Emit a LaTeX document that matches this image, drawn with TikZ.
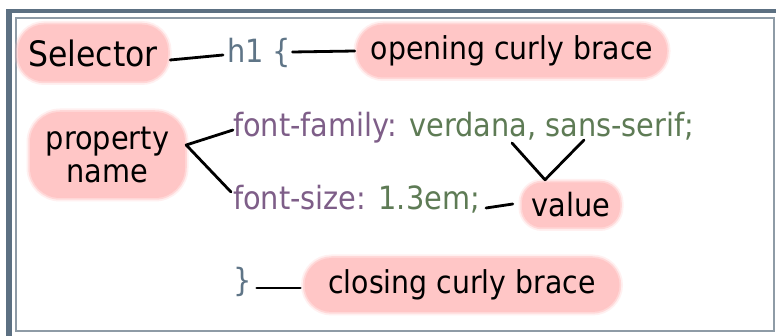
\documentclass[tikz,border=0pt]{standalone}
\usepackage{fontspec}
\setmainfont{DejaVu Sans Condensed}
\usetikzlibrary{calc}
\definecolor{framec}{HTML}{5C7082}
\definecolor{innerc}{HTML}{8E9BA6}
\definecolor{h1c}{HTML}{5F7587}
\definecolor{purp}{HTML}{7E5E88}
\definecolor{grn}{HTML}{5E7B55}
\definecolor{blobc}{HTML}{FFC6C6}
\begin{document}
\begin{tikzpicture}[x=1pt,y=-1pt,
  blob/.style={fill=blobc, rounded corners=#1, inner sep=0pt, text=black,
    align=center,
    preaction={draw=blobc, line width=7pt, opacity=0.25, rounded corners=#1},
    preaction={draw=blobc, line width=3.5pt, opacity=0.55, rounded corners=#1}},
  code/.style={anchor=base west, inner sep=0pt, font=\fontsize{32}{32}\selectfont},
  link/.style={draw=black, line width=2.8pt, line cap=round, line join=round}]
\useasboundingbox (0,0) rectangle (776,336);
\fill[white] (0,0) rectangle (776,336);
% frame
\fill[framec] (6,9) rectangle (776,13.5);
\fill[framec] (6,9) rectangle (12,336);
\draw[innerc, line width=1.6pt] (15.8,18) rectangle (774,331);
% labels
\node[blob=26pt, minimum width=150pt, minimum height=57pt, font=\fontsize{35}{35}\selectfont] (sel) at (93,53) {Selector};
\node[blob=26pt, minimum width=310pt, minimum height=53pt, font=\fontsize{31.5}{32}\selectfont] (open) at (512,51) {opening curly brace};
\node[blob=30pt, minimum width=155pt, minimum height=86pt, font=\fontsize{32}{33}\selectfont] (pn) at (107.5,155) {property\\name};
\node[blob=20pt, minimum width=98pt, minimum height=45pt, font=\fontsize{32}{32}\selectfont] (val) at (571,205) {value};
\node[blob=27pt, minimum width=315pt, minimum height=54pt, font=\fontsize{31.5}{32}\selectfont] (close) at (462,285) {closing curly brace};
% code
\node[code, text=h1c] (h1) at (227,63) {h1 \{};
\node[code] (ff) at (233,137) {\textcolor{purp}{font-family:} \textcolor{grn}{verdana, sans-serif;}};
\node[code] (fs) at (233,210) {\textcolor{purp}{font-size:} \textcolor{grn}{1.3em;}};
\node[code, text=h1c] (cb) at (233,292) {\}};
% connectors
\draw[link] ($(sel.east)+(2,7)$) -- ($(h1.base west)+(-4,-8)$);
\draw[link] ($(h1.base east)+(1,-11)$) -- ($(open.west)+(-2,0)$);
\draw[link] ($(ff.base west)+(0,-7)$) -- ($(pn.east)+(1,-10)$) -- ($(fs.base west)+(-2,-18)$);
\draw[link] ($(ff.base west)+(279,6)$) -- ($(val.north)+(-26,-2.5)$) -- ($(ff.base west)+(351,3)$);
\draw[link] ($(fs.base east)+(6,-2)$) -- ($(val.west)+(-9,-1)$);
\draw[link] ($(cb.base east)+(5,-4)$) -- ($(close.west)+(-4,3)$);
\end{tikzpicture}
\end{document}
